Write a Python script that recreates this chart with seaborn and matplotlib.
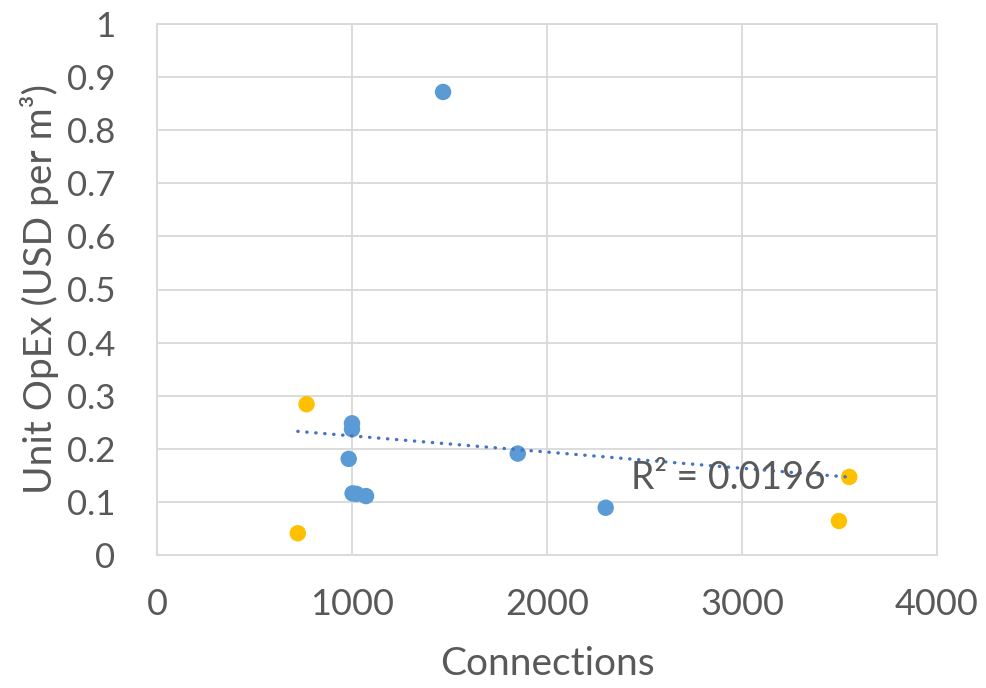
import matplotlib
matplotlib.use("Agg")
import matplotlib.pyplot as plt
import seaborn as sns
import pandas as pd
import numpy as np

# Data
connections_blue = [1467, 1000, 1000, 983, 1003, 1023, 1072, 1850, 2301]
opex_blue = [0.872, 0.248, 0.237, 0.181, 0.116, 0.115, 0.111, 0.191, 0.089]
connections_orange = [767, 722, 3550, 3497]
opex_orange = [0.284, 0.041, 0.147, 0.064]
x_ticks = [0, 1000, 2000, 3000, 4000]
y_ticks = [0, 0.1, 0.2, 0.3, 0.4, 0.5, 0.6, 0.7, 0.8, 0.9, 1]
y_tick_labels = ["0", "0.1", "0.2", "0.3", "0.4", "0.5", "0.6", "0.7", "0.8", "0.9", "1"]
r2_text = "R² = 0.0196"

df = pd.DataFrame({
    "Connections": connections_blue + connections_orange,
    "OpEx": opex_blue + opex_orange,
    "Group": ["A"] * len(connections_blue) + ["B"] * len(connections_orange),
})

sns.set_theme(style="white")
plt.rcParams["font.family"] = ["Lato", "DejaVu Sans"]
TEXT = "#595959"
GRID = "#D9D9D9"

fig = plt.figure(figsize=(9.86, 6.88), dpi=100)
ax = fig.add_axes([157 / 986, 1 - 555 / 688, 780 / 986, 531 / 688])

sns.scatterplot(data=df, x="Connections", y="OpEx", hue="Group",
                palette={"A": "#5B9BD5", "B": "#FFC000"}, s=140,
                edgecolor="none", linewidth=0, legend=False, ax=ax, zorder=3)

sns.regplot(data=df, x="Connections", y="OpEx", scatter=False, ci=None, ax=ax,
            line_kws=dict(color="#4472C4", linewidth=2.4, linestyle=(0, (0.1, 2.6)),
                          dash_capstyle="round", zorder=4))

ax.text(2431, 0.145, r2_text, fontsize=27, color=TEXT, ha="left", va="center", zorder=5)

ax.set_xlim(0, 4000)
ax.set_ylim(0, 1)
ax.set_xticks(x_ticks)
ax.set_xticklabels([str(t) for t in x_ticks])
ax.set_yticks(y_ticks)
ax.set_yticklabels(y_tick_labels)
ax.grid(True, color=GRID, linewidth=1.3)
ax.set_axisbelow(True)
for sp in ax.spines.values():
    sp.set_color(GRID)
    sp.set_linewidth(1.3)
ax.tick_params(axis="x", length=0, pad=24, labelsize=26, labelcolor=TEXT)
ax.tick_params(axis="y", length=0, pad=30, labelsize=25, labelcolor=TEXT)

ax.set_xlabel("Connections", fontsize=28, color=TEXT)
ax.set_ylabel("Unit OpEx (USD per m³)", fontsize=28, color=TEXT)
ax.xaxis.set_label_coords(0.5, -0.172)
ax.yaxis.set_label_coords(-0.125, 0.5)

fig.savefig("out.png", dpi=100)
